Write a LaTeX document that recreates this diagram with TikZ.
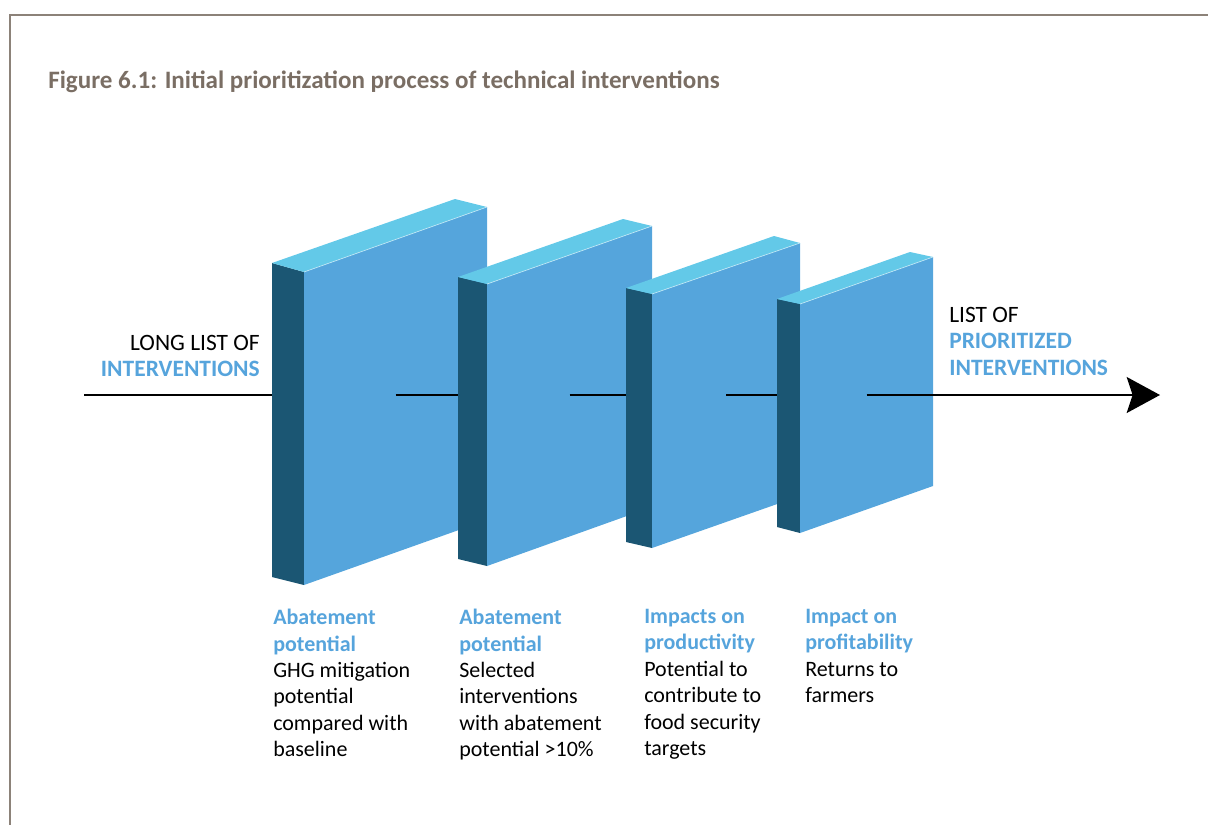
\documentclass[tikz,border=0pt]{standalone}
\usepackage{fontspec}
\setmainfont{Carlito}
\usetikzlibrary{arrows.meta}
\definecolor{facefront}{HTML}{55A5DC}
\definecolor{facetop}{HTML}{63C9E8}
\definecolor{faceside}{HTML}{1B5673}
\definecolor{headblue}{HTML}{56A4DC}
\definecolor{framegray}{HTML}{8C8279}
\definecolor{titlegray}{HTML}{7A6E64}
\tikzset{frontface/.style={fill=facefront},
    topface/.style={fill=facetop},
    sideface/.style={fill=faceside},
    ridge/.style={draw=white!60!facetop,line width=0.5pt},
    flow/.style={line width=1.5pt},
    sidetext/.style={inner sep=0pt,font=\fontsize{17.6}{19.8}\selectfont},
    steptext/.style={anchor=north west,inner sep=0pt,align=left,font=\fontsize{16.5}{19.8}\selectfont}}
\newcommand{\hd}[1]{\textcolor{headblue}{\bfseries #1}}

\begin{document}
\begin{tikzpicture}[x=0.75pt,y=0.75pt,yscale=-1,xscale=1]
\useasboundingbox (0,0) rectangle (1208,825);

%Frame
\draw [framegray,line width=0.9pt] (10,825) -- (10,15) -- (1208,15);
% Title
\node (title) [anchor=base west,inner sep=0pt,text=titlegray,font=\fontsize{18.8}{22}\selectfont\bfseries] at (48,88) {Figure 6.1: Initial prioritization process of technical interventions};

%Flow line points
\coordinate (in) at (84,395);
\coordinate (c1) at (395.5,395);
\coordinate (c2) at (569.5,395);
\coordinate (c3) at (726,395);
\coordinate (c4) at (866.5,395);
\coordinate (out) at (1160,395);

\draw [flow] (in) -- (c1);

%Panel 1
\fill [sideface] (272,263) -- (304,272) -- (304,585) -- (272,577) -- cycle;
\fill [topface] (272,263) -- (304,272) -- (487,207) -- (455,199) -- cycle;
\fill [frontface] (304,272) -- (487,207) -- (487,520) -- (304,585) -- cycle;
\draw [ridge] (304,272) -- (487,207);
\draw [flow] (c1) -- (c2);

%Panel 2
\fill [sideface] (458,277) -- (487,284) -- (487,566) -- (458,559) -- cycle;
\fill [topface] (458,277) -- (487,284) -- (652,226) -- (623,219) -- cycle;
\fill [frontface] (487,284) -- (652,226) -- (652,507) -- (487,566) -- cycle;
\draw [ridge] (487,284) -- (652,226);
\draw [flow] (c2) -- (c3);

%Panel 3
\fill [sideface] (626,288) -- (652,294) -- (652,548) -- (626,542) -- cycle;
\fill [topface] (626,288) -- (652,294) -- (800,243) -- (774,236) -- cycle;
\fill [frontface] (652,294) -- (800,243) -- (800,496) -- (652,548) -- cycle;
\draw [ridge] (652,294) -- (800,243);
\draw [flow] (c3) -- (c4);

%Panel 4
\fill [sideface] (777,299) -- (800,304) -- (800,533) -- (777,527) -- cycle;
\fill [topface] (777,299) -- (800,304) -- (933,257) -- (910,252) -- cycle;
\fill [frontface] (800,304) -- (933,257) -- (933,486) -- (800,533) -- cycle;
\draw [ridge] (800,304) -- (933,257);
\draw [flow,-{Stealth[length=25pt,width=27pt,inset=4.5pt]}] (c4) -- (out);

% Text Node
\node (longlist) [sidetext,anchor=north east,align=right] at (260,335) {LONG LIST OF\\\hd{INTERVENTIONS}};
% Text Node
\node (shortlist) [sidetext,anchor=north west,align=left] at (949,307) {LIST OF\\\hd{PRIORITIZED}\\\hd{INTERVENTIONS}};
% Text Node
\node (step1) [steptext] at (273,609) {\hd{Abatement}\\\hd{potential}\\GHG mitigation\\potential\\compared with\\baseline};
% Text Node
\node (step2) [steptext] at (459,609) {\hd{Abatement}\\\hd{potential}\\Selected\\interventions\\with abatement\\potential >10\%};
% Text Node
\node (step3) [steptext] at (644,609) {\hd{Impacts on}\\\hd{productivity}\\Potential to\\contribute to\\food security\\targets};
% Text Node
\node (step4) [steptext] at (805,609) {\hd{Impact on}\\\hd{profitability}\\Returns to\\farmers};

\end{tikzpicture}
\end{document}
